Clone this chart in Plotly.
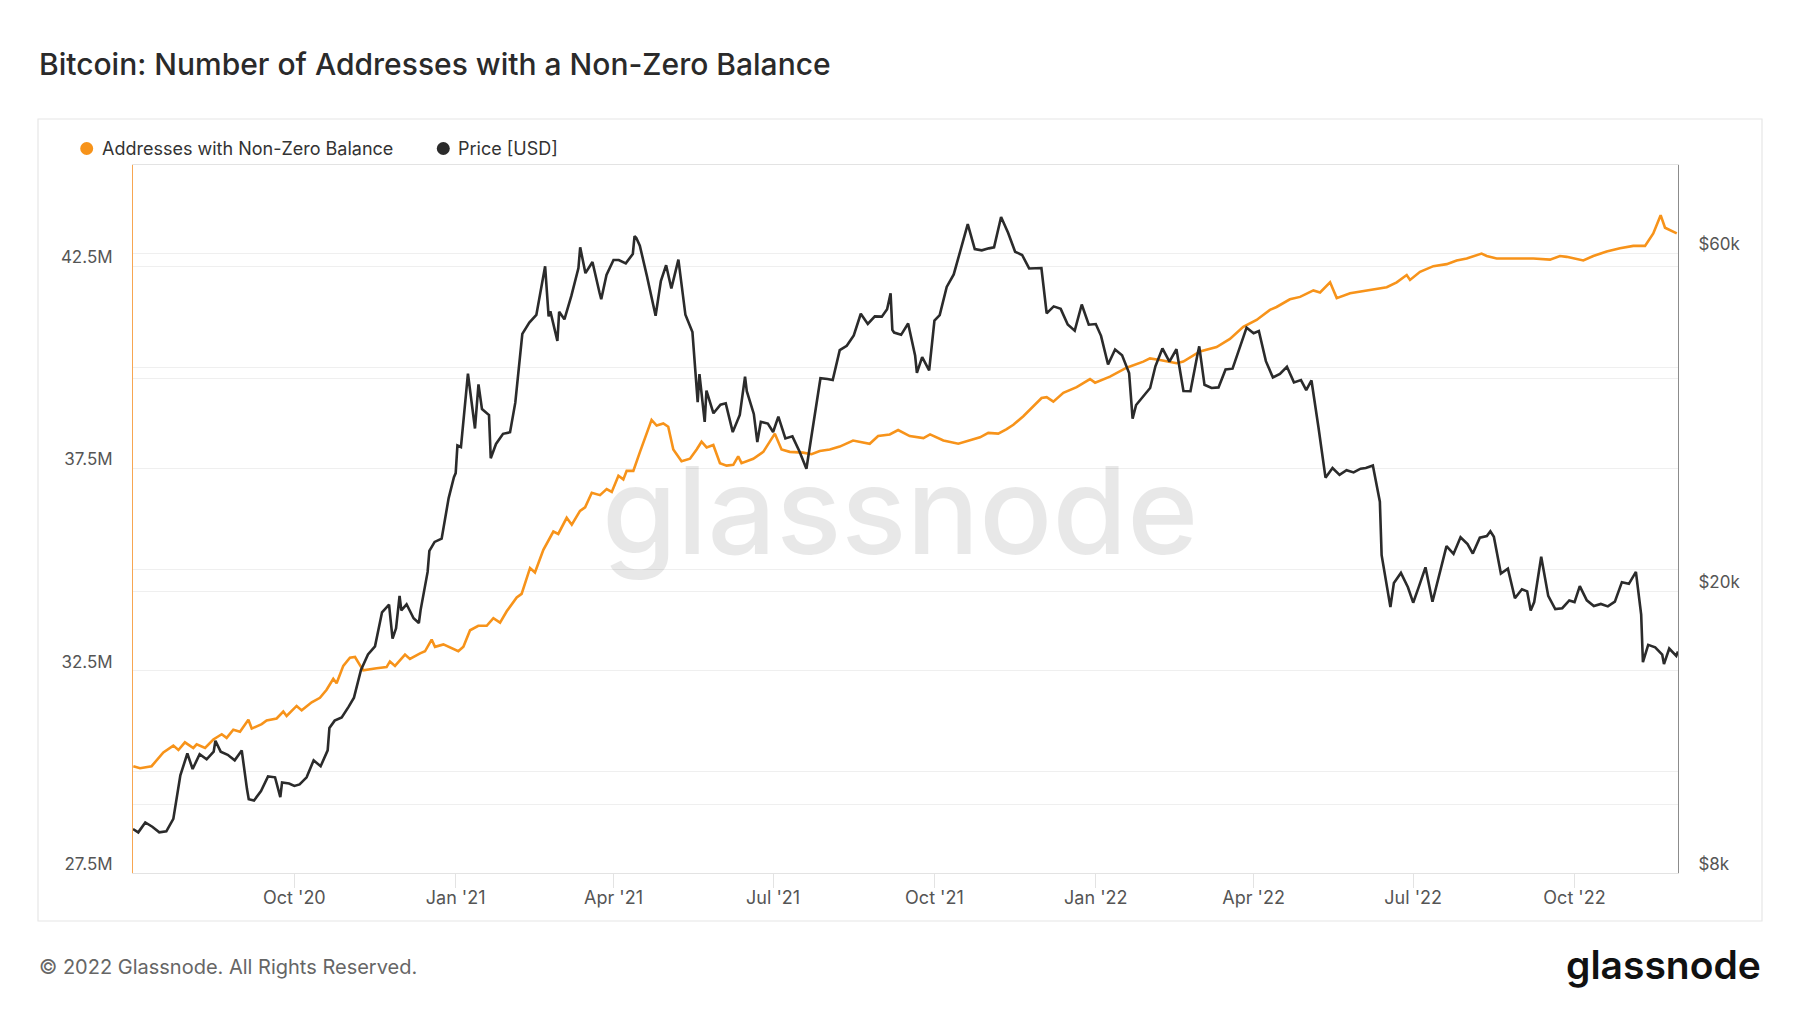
import numpy as np
import pandas as pd
import plotly.graph_objects as go

# ---- data ----
# Bitcoin price [USD], sampled on these days of every month, Jul 2020 - Nov 2022
price_days = [1, 4, 8, 12, 16, 20, 24, 28]
price_usd = [
    9230, 9130, 9430, 9300, 9130, 9160, 9540, 10990,        # 2020 Jul
    11800, 11220, 11770, 11580, 11870, 11870, 11750, 11540,  # Aug
    11920, 10510, 10130, 10440, 10950, 10920, 10740, 10700,  # Sep
    10620, 10670, 10920, 11540, 11320, 11920, 13130, 13270,  # Oct
    13740, 14150, 15480, 16290, 16720, 18680, 19150, 17730,  # Nov
    18800, 19170, 18320, 18810, 21300, 23480, 23730, 27080,  # Dec
    29370, 31970, 40580, 33960, 36170, 35470, 32290, 33370,  # 2021 Jan
    33540, 36930, 46200, 47910, 49130, 55890, 49700, 45140,  # Feb
    49630, 48440, 52310, 57230, 56280, 58350, 52840, 55950,  # Mar
    58740, 58730, 58090, 59890, 61550, 55830, 50050, 54830,  # Apr
    57750, 53550, 58800, 49150, 46460, 40530, 38400, 35680,  # May
    36690, 36850, 33560, 35480, 38340, 35600, 34700, 34500,  # Jun
    33570, 35290, 32870, 33100, 31530, 29790, 34290, 39990,  # Jul
    39880, 39750, 43810, 44430, 45960, 49320, 47700, 48900,  # Aug
    48850, 50040, 46390, 46050, 47780, 43010, 42840, 41030,  # Sep
    48240, 49110, 53810, 56040, 60860, 65990, 60860, 60620,  # Oct
    61000, 61210, 67570, 64160, 60340, 59700, 57140, 57270,  # Nov
    57230, 49370, 50510, 50100, 47630, 46680, 50820, 47590,  # Dec
    47690, 45900, 41820, 43910, 43090, 40680, 36650, 37710,  # 2022 Jan
    38740, 41570, 44050, 42200, 43940, 38350, 38330, 43190,  # Feb
    44350, 39140, 38740, 38810, 41140, 41250, 44000, 47130,  # Mar
    46280, 46620, 42270, 40080, 40550, 41500, 39450, 39740,  # Apr
    38470, 39700, 34060, 28940, 29860, 29200, 29650, 29440,  # May
    29800, 29860, 30110, 26760, 20380, 20550, 21230, 20260,  # Jun
    19270, 20220, 21620, 19330, 21210, 23160, 22580, 23840,  # Jul
    23310, 22610, 23810, 23940, 23880, 21190, 21530, 19550,  # Aug
    20130, 19990, 19310, 22370, 19700, 18870, 18930, 19410,  # Sep
    19310, 20340, 19420, 19060, 19190, 19040, 19340, 20600,  # Oct
    20490, 21150, 18540, 16800, 16670, 16280, 16600, 16210,  # Nov
]
# extra turning points of the price line
extra_dates = [
    "2020-08-17", "2020-09-05", "2020-09-23", "2020-10-21", "2020-11-26",
    "2020-11-30", "2020-12-11", "2020-12-17", "2020-12-31", "2021-01-02",
    "2021-01-11", "2021-01-14", "2021-01-21", "2021-02-21", "2021-02-23",
    "2021-03-13", "2021-03-25", "2021-04-13", "2021-04-14", "2021-04-25",
    "2021-05-19", "2021-05-23", "2021-06-15", "2021-06-22", "2021-09-06",
    "2021-09-07", "2021-09-21", "2022-01-22", "2022-06-13", "2022-06-18",
    "2022-08-14", "2022-09-06", "2022-11-05", "2022-11-09", "2022-11-21",
    "2022-11-29",
]
extra_usd = [
    12300, 10170, 10240, 12820, 17150,
    19700, 18040, 22800, 28990, 32130,
    35570, 39190, 30830, 57540, 48890,
    61200, 51700, 63500, 63100, 49000,
    37000, 34700, 40200, 32500, 52700,
    46800, 40700, 35070, 22490, 19000,
    24310, 18790, 21300, 15880, 15780,
    16440,
]

# Addresses with non-zero balance [millions], days after 2020-07-01
addr_days = [
    0.2, 4.0, 10.6, 17.3, 23.0, 25.9, 29.6, 34.4, 36.3, 41.1,
    45.8, 50.6, 53.4, 57.2, 61.0, 65.8, 67.7, 73.4, 76.2, 81.9,
    85.7, 87.6, 93.3, 96.2, 101.9, 106.6, 110.4, 114.2, 116.1, 119.9,
    123.7, 126.6, 129.4, 131.3, 138.9, 144.6, 146.5, 149.4, 155.1, 157.9,
    163.7, 166.5, 170.3, 172.2, 177.0, 180.8, 185.5, 188.4, 192.2, 196.9,
    201.7, 205.5, 209.3, 213.1, 218.8, 221.6,
    226.4, 229.2, 234.0, 239.7, 242.5, 247.3, 250.2, 254.9, 257.8, 261.6,
    266.3, 270.1, 273.0, 276.8, 279.6, 281.5, 285.3, 289.1, 292.9, 295.7,
    298.6, 302.4, 305.2, 308.1, 312.8, 317.6, 321.4, 324.2, 327.1, 330.9,
    334.7, 338.5, 342.3, 345.1, 347.0, 353.7, 359.4, 366.0, 369.8, 374.5,
    382.1, 386.9, 391.6, 397.3, 403.0, 410.6, 420.1, 424.9, 431.5, 436.3,
    442.9,
    450.7, 454.5, 462.1, 470.6, 477.3, 483.0, 487.7, 493.4, 498.2, 502.0,
    507.7, 513.4, 518.1, 521.0, 524.8, 530.5, 538.1, 545.7, 548.6, 557.1,
    566.6, 576.1, 579.9, 585.6, 595.1, 598.9, 608.4, 617.9, 625.5, 633.1,
    640.7, 648.3, 652.1, 659.7,
    665.5, 673.1, 676.9, 682.6, 686.4, 694.0, 703.5, 711.1, 714.9, 720.6,
    726.3, 728.2, 733.9, 741.5, 749.1, 754.8, 760.5, 769.0, 771.9, 777.6,
    789.0, 798.5, 808.0, 813.7, 817.5, 827.0, 832.7, 840.3, 847.9, 855.5,
    862.2, 866.9, 871.1, 873.6, 880.3,
]
addr_millions = [
    30.14, 30.09, 30.14, 30.48, 30.65, 30.54, 30.73, 30.59, 30.68, 30.59,
    30.80, 30.93, 30.84, 31.04, 30.99, 31.29, 31.07, 31.18, 31.27, 31.32,
    31.49, 31.38, 31.63, 31.52, 31.72, 31.83, 32.03, 32.30, 32.19, 32.62,
    32.82, 32.84, 32.64, 32.51, 32.56, 32.59, 32.73, 32.62, 32.90, 32.79,
    32.93, 32.98, 33.27, 33.09, 33.15, 33.07, 32.98, 33.09, 33.50, 33.61,
    33.61, 33.80, 33.69, 33.97, 34.31, 34.40,
    35.04, 34.93, 35.49, 35.94, 35.88, 36.28, 36.11, 36.45, 36.54, 36.90,
    36.84, 36.99, 36.92, 37.32, 37.23, 37.44, 37.44, 37.91, 38.36, 38.70,
    38.56, 38.61, 38.53, 37.97, 37.68, 37.74, 37.97, 38.16, 38.02, 38.08,
    37.63, 37.57, 37.59, 37.80, 37.63, 37.74, 37.91, 38.36, 37.97, 37.91,
    37.89, 37.85, 37.93, 37.97, 38.04, 38.19, 38.11, 38.30, 38.34, 38.45,
    38.30,
    38.25, 38.34, 38.19, 38.11, 38.19, 38.27, 38.38, 38.36, 38.47, 38.58,
    38.79, 39.03, 39.24, 39.26, 39.15, 39.37, 39.51, 39.71, 39.62, 39.77,
    39.99, 40.14, 40.22, 40.18, 40.10, 40.14, 40.39, 40.50, 40.70, 41.00,
    41.17, 41.42, 41.49, 41.68,
    41.74, 41.90, 41.85, 42.10, 41.71, 41.83, 41.90, 41.94, 41.98, 42.10,
    42.28, 42.16, 42.36, 42.50, 42.55, 42.64, 42.69, 42.81, 42.75, 42.69,
    42.69, 42.69, 42.66, 42.75, 42.73, 42.64, 42.75, 42.86, 42.94, 43.00,
    43.00, 43.31, 43.76, 43.45, 43.31,
]

x_ticks = ["2020-10-01", "2021-01-01", "2021-04-01", "2021-07-01", "2021-10-01",
           "2022-01-01", "2022-04-01", "2022-07-01", "2022-10-01"]
addr_ticks = [27.5e6, 30e6, 32.5e6, 35e6, 37.5e6, 40e6, 42.5e6, 45e6]
addr_tick_text = ["27.5M", "", "32.5M", "", "37.5M", "", "42.5M", ""]
price_ticks = [8000, 10000, 20000, 40000, 60000, 80000]
price_tick_text = ["$8k", "", "$20k", "", "$60k", ""]

# ---- build series ----
start = pd.Timestamp("2020-07-01")
month_starts = pd.date_range(start, "2022-11-01", freq="MS")
assert len(price_usd) == len(month_starts) * len(price_days)
assert len(extra_dates) == len(extra_usd)
assert len(addr_days) == len(addr_millions)

price = pd.Series(
    price_usd,
    index=[m + pd.Timedelta(days=d - 1) for m in month_starts for d in price_days])
price = pd.concat([price, pd.Series(extra_usd, index=pd.to_datetime(extra_dates))]).sort_index()

addr_dates = start + pd.to_timedelta(addr_days, unit="D")
addr_values = np.array(addr_millions) * 1e6

ORANGE = "#f7931a"
BLACK = "#2b2b2b"
GRID = "#efefef"
FONT = "Inter, Noto Sans, sans-serif"

# page geometry in screen pixels; the page body adds an 8px margin
W, H = 1800, 1013
OFF = 8
L, R, T, B = 133, 1678, 165, 873


def px(x):
    return (x - L) / (R - L)


def py(y):
    return (B - y) / (B - T)


fig = go.Figure()
fig.add_trace(go.Scatter(x=addr_dates, y=addr_values, mode="lines", yaxis="y",
                         line=dict(color=ORANGE, width=2.6),
                         name="Addresses with Non-Zero Balance", hoverinfo="skip"))
fig.add_trace(go.Scatter(x=price.index, y=price.values, mode="lines", yaxis="y2",
                         line=dict(color=BLACK, width=2.6),
                         name="Price [USD]", hoverinfo="skip"))

fig.update_layout(
    width=W, height=H,
    margin=dict(l=L - OFF, r=W - (R - OFF), t=T - OFF, b=H - (B - OFF)),
    paper_bgcolor="white", plot_bgcolor="white",
    showlegend=False,
    font=dict(family=FONT, color="#555555", size=17),
    xaxis=dict(
        type="date", range=["2020-07-01", "2022-11-29"],
        tickvals=pd.to_datetime(x_ticks), tickformat="%b '%y",
        ticks="outside", ticklen=14, tickcolor="#e3e3e3",
        ticklabelstandoff=-6,
        showgrid=False, zeroline=False,
        showline=True, linecolor="#e3e3e3", linewidth=1, mirror=True,
        tickfont=dict(size=18, color="#555555"),
    ),
    yaxis=dict(
        range=[27.5e6, 45e6], tickvals=addr_ticks, ticktext=addr_tick_text,
        showgrid=True, gridcolor=GRID, zeroline=False,
        showline=True, linecolor="#f7a651", linewidth=1,
        ticks="", ticklabelshift=-9, ticklabelstandoff=16,
        tickfont=dict(size=17, color="#555555"),
    ),
    yaxis2=dict(
        overlaying="y", side="right", type="log",
        range=[np.log10(8000), np.log10(80000)],
        tickvals=price_ticks, ticktext=price_tick_text,
        showgrid=True, gridcolor=GRID, zeroline=False,
        showline=True, linecolor="#8c8c8c", linewidth=1,
        ticks="", ticklabelshift=-9, ticklabelstandoff=16,
        tickfont=dict(size=17, color="#555555"),
    ),
)

# chart card frame
fig.add_shape(type="rect", xref="paper", yref="paper",
              x0=px(38), x1=px(1762), y0=py(921), y1=py(119),
              line=dict(color="#e6e6e6", width=1.2), layer="below")

# legend (dots + labels)
for cx, label, color in [(86.7, "Addresses with Non-Zero Balance", ORANGE),
                         (443.3, "Price [USD]", BLACK)]:
    fig.add_shape(type="circle", xref="paper", yref="paper",
                  xsizemode="pixel", ysizemode="pixel",
                  xanchor=px(cx), yanchor=py(148.5),
                  x0=-6.5, x1=6.5, y0=-6.5, y1=6.5,
                  fillcolor=color, line=dict(width=0))
    fig.add_annotation(xref="paper", yref="paper", x=px(cx + 13), y=py(148.5),
                       xanchor="left", yanchor="middle", showarrow=False,
                       text=label, font=dict(family=FONT, size=18, color="#333333"))

# title, watermark, footer
fig.add_annotation(xref="paper", yref="paper", x=px(37), y=py(64),
                   xanchor="left", yanchor="middle", showarrow=False,
                   text="Bitcoin: Number of Addresses with a Non-Zero Balance",
                   font=dict(family=FONT, size=30, color="#2a2a2a", weight=500))
fig.add_annotation(xref="paper", yref="paper", x=px(900), y=py(510),
                   xanchor="center", yanchor="middle", showarrow=False,
                   text="glassnode",
                   font=dict(family=FONT, size=121, color="rgba(0,0,0,0.09)", weight=500))
fig.add_annotation(xref="paper", yref="paper", x=px(37), y=py(967),
                   xanchor="left", yanchor="middle", showarrow=False,
                   text="© 2022 Glassnode. All Rights Reserved.",
                   font=dict(family=FONT, size=20, color="#666666"))
fig.add_annotation(xref="paper", yref="paper", x=px(1763), y=py(964),
                   xanchor="right", yanchor="middle", showarrow=False,
                   text="glassnode",
                   font=dict(family=FONT, size=39, color="#111111", weight=600))

fig.write_html("out.html")
